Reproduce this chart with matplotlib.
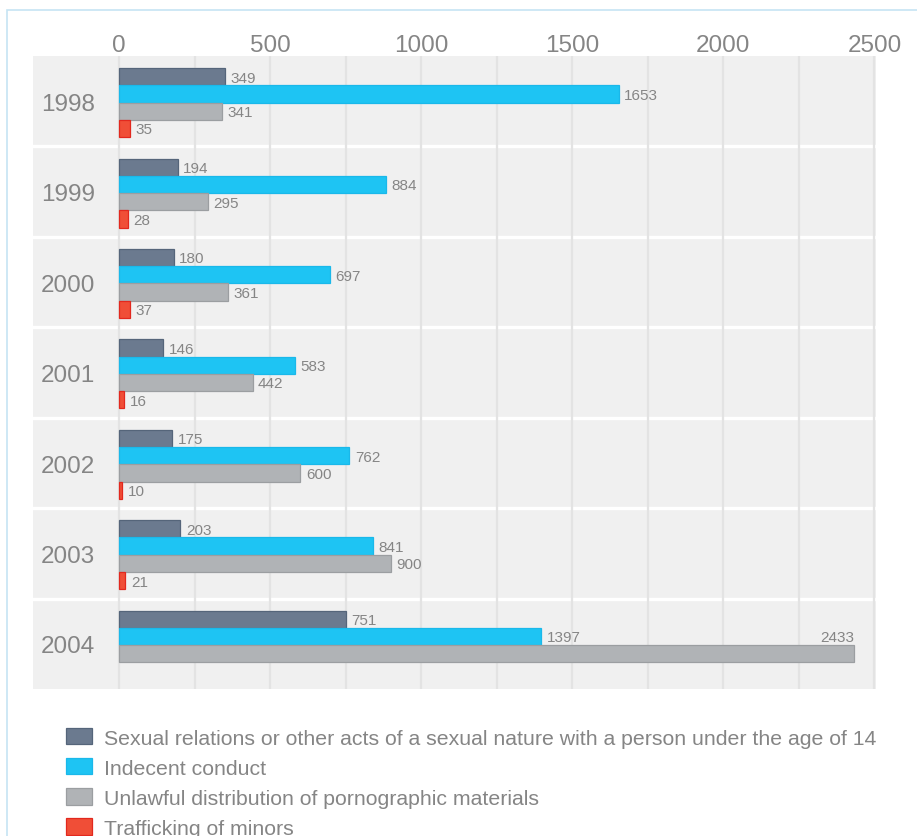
import matplotlib
matplotlib.use("Agg")
import matplotlib.pyplot as plt
from matplotlib.patches import Rectangle, Patch
import numpy as np

plt.rcParams['font.family'] = ['Liberation Sans', 'DejaVu Sans']

years = ["1998", "1999", "2000", "2001", "2002", "2003", "2004"]
series_names = [
    "Sexual relations or other acts of a sexual nature with a person under the age of 14",
    "Indecent conduct",
    "Unlawful distribution of pornographic materials",
    "Trafficking of minors",
]
sexual_relations = [349, 194, 180, 146, 175, 203, 751]
indecent_conduct = [1653, 884, 697, 583, 762, 841, 1397]
pornographic = [341, 295, 361, 442, 600, 900, 2433]
trafficking = [35, 28, 37, 16, 10, 21, None]
x_ticks = [0, 500, 1000, 1500, 2000, 2500]

series = [sexual_relations, indecent_conduct, pornographic, trafficking]
face_colors = ["#6b7a8f", "#1ec4f3", "#b0b3b6", "#f04e37"]
edge_colors = ["#55657a", "#1ab8ea", "#9b9ea1", "#e2281e"]
text_gray = "#858585"

W, H = 917, 837
fig = plt.figure(figsize=(W / 100, H / 100), dpi=100)

# outer frame
fig.patches.append(Rectangle((7 / W, -0.1), 1.2, 1 - 11 / H + 0.1, transform=fig.transFigure,
                             fill=False, edgecolor="#c6e4f3", linewidth=1.2, zorder=0))

ax = fig.add_axes([33 / W, 1 - 690 / H, 843 / W, 633 / H])
ax.set_facecolor("#f0f0f0")
for s in ax.spines.values():
    s.set_visible(False)

xmin, xmax = -285, 2505
ax.set_xlim(xmin, xmax)
ax.set_ylim(len(years) - 0.5, -0.5)

# group separators
for i in range(len(years) - 1):
    ax.axhline(i + 0.5, color="white", linewidth=2.4, zorder=0.5)
# vertical gridlines
for v in np.arange(0, 2501, 250):
    ax.axvline(v, color="#e3e3e3", linewidth=1.6, zorder=1)

bar_h = 0.191
offsets = [-0.271 + bar_h * j for j in range(4)]
yidx = np.arange(len(years))

for j, vals in enumerate(series):
    for i, v in enumerate(vals):
        if v is None:
            continue
        y = yidx[i] + offsets[j]
        ax.barh(y, v, height=bar_h, color=face_colors[j], edgecolor=edge_colors[j],
                linewidth=0.9, zorder=2)
        if v > 2300:
            ax.text(v, y - bar_h / 2 - 0.01, str(v), ha="right", va="bottom",
                    fontsize=11, color=text_gray, zorder=3)
        else:
            ax.text(v + 18, y + 0.01, str(v), ha="left", va="center",
                    fontsize=11, color=text_gray, zorder=3)

for i, yr in enumerate(years):
    ax.text(-169, yidx[i] + 0.03, yr, ha="center", va="center", fontsize=17.5, color=text_gray)

ax.set_yticks([])
ax.xaxis.tick_top()
ax.set_xticks(x_ticks)
ax.set_xticklabels([str(t) for t in x_ticks])
ax.tick_params(axis="x", length=0, pad=0, labelsize=17.5, labelcolor=text_gray)

handles = [Patch(facecolor=face_colors[j], edgecolor=edge_colors[j], linewidth=0.9)
           for j in range(4)]
fig.legend(handles, series_names, loc="upper left",
           bbox_to_anchor=(66 / W, 1 - 729 / H), frameon=False,
           fontsize=15.3, labelcolor=text_gray, borderpad=0, borderaxespad=0,
           handlelength=1.23, handleheight=0.8, handletextpad=0.56, labelspacing=0.5)

fig.savefig("out.png", dpi=100)
